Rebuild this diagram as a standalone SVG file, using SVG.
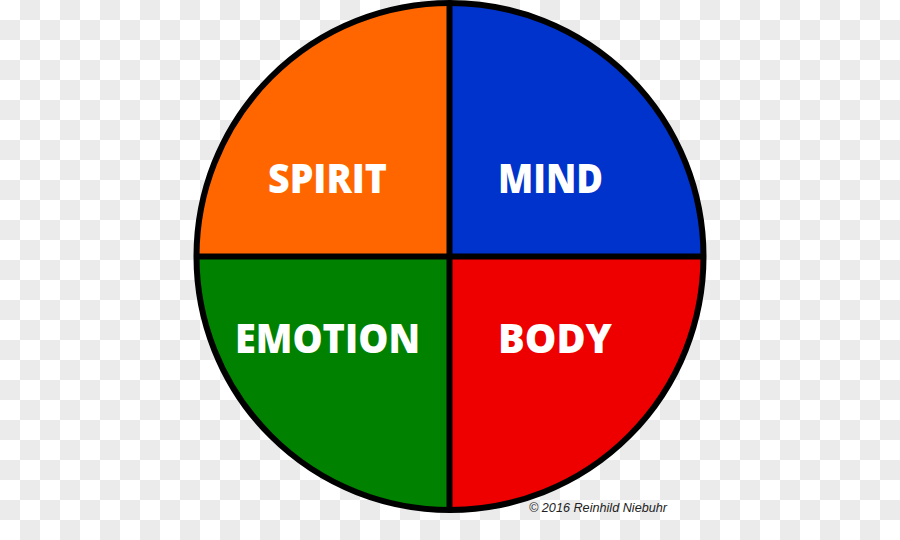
<svg xmlns="http://www.w3.org/2000/svg" width="900" height="540" viewBox="0 0 900 540">
  <defs>
    <pattern id="checker" x="0" y="0" width="40" height="40" patternUnits="userSpaceOnUse">
      <rect width="40" height="40" fill="#ffffff"/>
      <rect x="20" y="0" width="20" height="20" fill="#ebebeb"/>
      <rect x="0" y="20" width="20" height="20" fill="#ebebeb"/>
    </pattern>
    <clipPath id="disc">
      <circle cx="450" cy="256.5" r="253.5"/>
    </clipPath>
  </defs>
  <style>
    .lbl { font-family: "Open Sans", "DejaVu Sans", sans-serif; font-weight: 800; font-size: 40px; fill: #ffffff; text-anchor: middle; }
    .copy { font-family: "Liberation Sans", Arial, sans-serif; font-style: italic; font-size: 12.6px; fill: #222222; }
    .div { stroke: #000000; stroke-width: 6; fill: none; }
  </style>
  <rect width="900" height="540" fill="url(#checker)"/>
  <g clip-path="url(#disc)">
    <g id="spirit">
      <rect x="190" y="0" width="260" height="257" fill="#ff6600"/>
    </g>
    <g id="mind">
      <rect x="450" y="0" width="260" height="257" fill="#0033cc"/>
    </g>
    <g id="emotion">
      <rect x="190" y="256" width="260" height="260" fill="#008200"/>
    </g>
    <g id="body">
      <rect x="450" y="256" width="260" height="260" fill="#ee0000"/>
    </g>
  </g>
  <g id="dividers">
    <line class="div" x1="449.5" y1="3" x2="449.5" y2="510" stroke-width="6"/>
    <line class="div" x1="196" y1="256.5" x2="704" y2="256.5" stroke-width="5"/>
  </g>
  <circle cx="450" cy="256.5" r="253.5" class="div"/>
  <text class="lbl" x="327.5" y="193" textLength="119" lengthAdjust="spacingAndGlyphs">SPIRIT</text>
  <text class="lbl" x="550.5" y="193" textLength="105" lengthAdjust="spacingAndGlyphs">MIND</text>
  <text class="lbl" x="327.5" y="353" textLength="185" lengthAdjust="spacingAndGlyphs">EMOTION</text>
  <text class="lbl" x="555" y="353" textLength="114" lengthAdjust="spacingAndGlyphs">BODY</text>
  <text class="copy" x="529" y="512" textLength="138" lengthAdjust="spacingAndGlyphs">© 2016 Reinhild Niebuhr</text>
</svg>
